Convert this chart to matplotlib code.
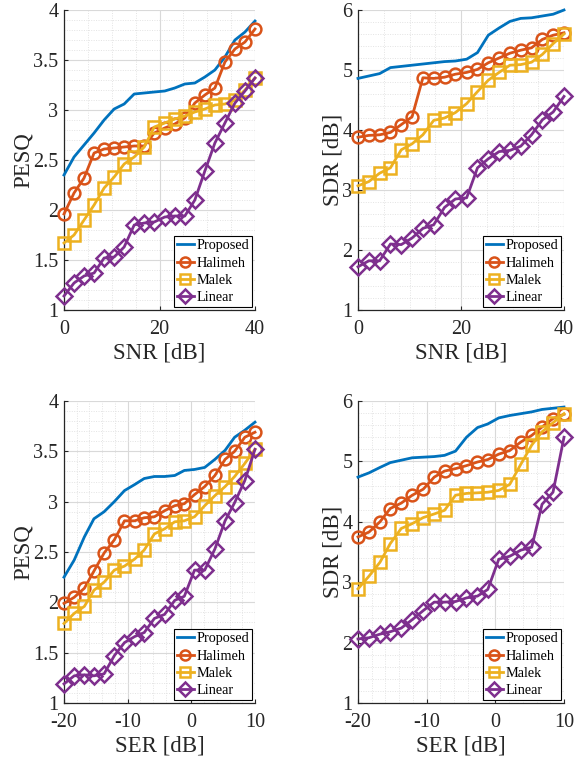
import matplotlib
matplotlib.use("Agg")
import matplotlib.pyplot as plt
from matplotlib.ticker import FormatStrFormatter, MultipleLocator

plt.rcParams["font.family"] = ["Liberation Serif", "DejaVu Serif"]
plt.rcParams["axes.unicode_minus"] = False

snr = [0, 2.1, 4.2, 6.3, 8.4, 10.5, 12.6, 14.7, 16.8, 18.9,
       21.1, 23.2, 25.3, 27.4, 29.5, 31.6, 33.7, 35.8, 37.9, 40]
ser = [-20, -18.4, -16.8, -15.3, -13.7, -12.1, -10.5, -8.9, -7.4, -5.8,
       -4.2, -2.6, -1.1, 0.5, 2.1, 3.7, 5.3, 6.8, 8.4, 10]

# PESQ vs SNR
pesq_snr_proposed = [2.35, 2.53, 2.65, 2.77, 2.9, 3.01, 3.06, 3.16, 3.17, 3.18,
                     3.19, 3.22, 3.26, 3.27, 3.33, 3.4, 3.53, 3.7, 3.78, 3.89]
pesq_snr_halimeh = [1.96, 2.17, 2.32, 2.57, 2.61, 2.62, 2.63, 2.64, 2.64, 2.77,
                    2.82, 2.86, 2.92, 3.07, 3.15, 3.22, 3.48, 3.61, 3.68, 3.81]
pesq_snr_malek = [1.67, 1.75, 1.9, 2.05, 2.22, 2.33, 2.46, 2.53, 2.63, 2.83,
                  2.87, 2.91, 2.94, 2.98, 3.01, 3.05, 3.06, 3.1, 3.2, 3.32]
pesq_snr_linear = [1.14, 1.27, 1.34, 1.37, 1.52, 1.53, 1.63, 1.85, 1.87, 1.88,
                   1.93, 1.94, 1.94, 2.1, 2.39, 2.67, 2.87, 3.07, 3.19, 3.32]

# SDR vs SNR
sdr_snr_proposed = [4.86, 4.9, 4.94, 5.04, 5.06, 5.08, 5.1, 5.12, 5.14, 5.15,
                    5.18, 5.29, 5.58, 5.7, 5.81, 5.86, 5.87, 5.9, 5.93, 6.0]
sdr_snr_halimeh = [3.88, 3.91, 3.92, 3.96, 4.09, 4.22, 4.87, 4.86, 4.88, 4.93,
                   4.96, 5.01, 5.12, 5.2, 5.28, 5.33, 5.37, 5.51, 5.58, 5.62]
sdr_snr_malek = [3.07, 3.14, 3.28, 3.37, 3.67, 3.77, 3.92, 4.16, 4.2, 4.29,
                 4.44, 4.64, 4.83, 4.96, 5.08, 5.09, 5.13, 5.26, 5.44, 5.6]
sdr_snr_linear = [1.72, 1.82, 1.82, 2.1, 2.09, 2.2, 2.36, 2.42, 2.71, 2.85,
                  2.87, 3.37, 3.52, 3.64, 3.66, 3.73, 3.92, 4.17, 4.3, 4.56]

# PESQ vs SER
pesq_ser_proposed = [2.25, 2.42, 2.65, 2.83, 2.9, 3.0, 3.11, 3.17, 3.23, 3.25,
                     3.25, 3.26, 3.31, 3.32, 3.34, 3.42, 3.51, 3.64, 3.71, 3.79]
pesq_ser_halimeh = [1.99, 2.05, 2.14, 2.31, 2.49, 2.62, 2.81, 2.81, 2.84, 2.85,
                    2.91, 2.96, 2.98, 3.07, 3.15, 3.26, 3.42, 3.5, 3.64, 3.69]
pesq_ser_malek = [1.79, 1.89, 1.96, 2.12, 2.2, 2.32, 2.36, 2.43, 2.52, 2.68,
                  2.73, 2.8, 2.81, 2.85, 2.96, 3.06, 3.15, 3.25, 3.38, 3.52]
pesq_ser_linear = [1.19, 1.27, 1.28, 1.27, 1.29, 1.47, 1.6, 1.66, 1.7, 1.84,
                   1.88, 2.02, 2.06, 2.32, 2.32, 2.53, 2.81, 2.99, 3.21, 3.52]

# SDR vs SER
sdr_ser_proposed = [4.74, 4.81, 4.9, 4.98, 5.02, 5.06, 5.07, 5.08, 5.1, 5.17,
                    5.4, 5.56, 5.62, 5.72, 5.76, 5.79, 5.82, 5.86, 5.88, 5.9]
sdr_ser_halimeh = [3.75, 3.83, 4.0, 4.22, 4.31, 4.44, 4.54, 4.74, 4.84, 4.88,
                   4.93, 4.99, 5.03, 5.12, 5.18, 5.32, 5.43, 5.57, 5.71, 5.78]
sdr_ser_malek = [2.89, 3.1, 3.33, 3.64, 3.89, 3.97, 4.07, 4.13, 4.19, 4.44,
                 4.47, 4.48, 4.49, 4.52, 4.62, 4.95, 5.27, 5.49, 5.64, 5.79]
sdr_ser_linear = [2.06, 2.08, 2.14, 2.18, 2.24, 2.38, 2.53, 2.67, 2.67, 2.68,
                  2.74, 2.77, 2.88, 3.38, 3.43, 3.53, 3.58, 4.29, 4.49, 5.4]

labels = ["Proposed", "Halimeh", "Malek", "Linear"]
colors = ["#0072BD", "#D95319", "#EDB120", "#7E2F8E"]
markers = [None, "o", "s", "D"]

W, H = 584, 760
fig = plt.figure(figsize=(W / 100, H / 100), dpi=100)


def add_axes(left, right, top, bottom):
    return fig.add_axes([left / W, 1 - bottom / H, (right - left) / W, (bottom - top) / H])


panels = [
    (add_axes(64, 255, 10, 310), snr,
     [pesq_snr_proposed, pesq_snr_halimeh, pesq_snr_malek, pesq_snr_linear],
     "SNR [dB]", "PESQ", (0, 40), 20, 5, (1, 4), 0.5, 0.1),
    (add_axes(358, 564, 10, 310), snr,
     [sdr_snr_proposed, sdr_snr_halimeh, sdr_snr_malek, sdr_snr_linear],
     "SNR [dB]", "SDR [dB]", (0, 40), 20, 5, (1, 6), 1, 0.2),
    (add_axes(64, 255, 401, 703), ser,
     [pesq_ser_proposed, pesq_ser_halimeh, pesq_ser_malek, pesq_ser_linear],
     "SER [dB]", "PESQ", (-20, 10), 10, 2, (1, 4), 0.5, 0.1),
    (add_axes(358, 564, 401, 703), ser,
     [sdr_ser_proposed, sdr_ser_halimeh, sdr_ser_malek, sdr_ser_linear],
     "SER [dB]", "SDR [dB]", (-20, 10), 10, 2, (1, 6), 1, 0.2),
]

for ax, x, series, xlabel, ylabel, xlim, xmaj, xmin, ylim, ymaj, ymin in panels:
    for ys, label, color, marker in zip(series, labels, colors, markers):
        ax.plot(x, ys, color=color, lw=2, marker=marker, markersize=8.5,
                markerfacecolor="none", markeredgewidth=1.8, label=label,
                clip_on=False, zorder=3)
    ax.set_xlim(*xlim)
    ax.set_ylim(*ylim)
    ax.xaxis.set_major_locator(MultipleLocator(xmaj))
    ax.xaxis.set_minor_locator(MultipleLocator(xmin))
    ax.yaxis.set_major_locator(MultipleLocator(ymaj))
    ax.yaxis.set_minor_locator(MultipleLocator(ymin))
    ax.xaxis.set_major_formatter(FormatStrFormatter("%g"))
    ax.yaxis.set_major_formatter(FormatStrFormatter("%g"))
    ax.grid(which="major", color="#d9d9d9", lw=0.8)
    ax.grid(which="minor", color="#e3e3e3", lw=0.7, ls=(0, (1, 1.5)))
    ax.set_axisbelow(True)
    for side in ("top", "right"):
        ax.spines[side].set_visible(False)
    for side in ("left", "bottom"):
        ax.spines[side].set_color("#262626")
        ax.spines[side].set_linewidth(0.9)
    ax.tick_params(which="both", direction="in", colors="#262626", labelsize=14.5)
    ax.tick_params(which="major", length=3)
    ax.tick_params(which="minor", length=0)
    ax.tick_params(axis="x", which="major", pad=7)
    ax.tick_params(axis="y", which="major", pad=4)
    ax.set_xlabel(xlabel, fontsize=16.5, color="#262626", labelpad=3)
    ax.set_ylabel(ylabel, fontsize=16.5, color="#262626", labelpad=-0.5)
    leg = ax.legend(loc="lower right", fontsize=10.3, frameon=True, fancybox=False,
                    edgecolor="black", framealpha=1, borderpad=0.2,
                    handlelength=1.15, handletextpad=0.2, labelspacing=0.3,
                    borderaxespad=0.2, markerscale=0.85)
    leg.get_frame().set_linewidth(0.8)

fig.savefig("out.png", dpi=100)
